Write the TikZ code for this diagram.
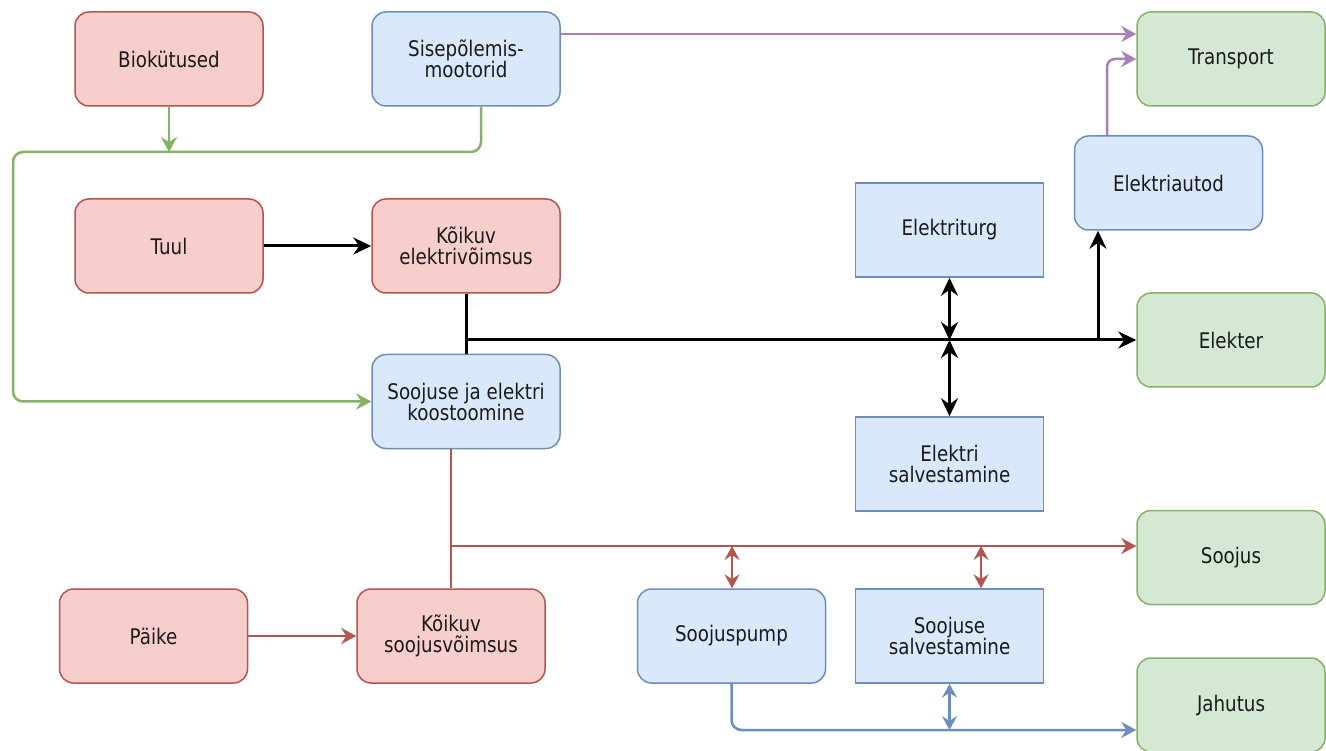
\documentclass[tikz,border=0pt]{standalone}
\usepackage{fontspec}
\setmainfont{DejaVu Sans}[FakeStretch=0.85]
\usetikzlibrary{arrows.meta,calc}
\definecolor{redfill}{HTML}{F8CECC}
\definecolor{redline}{HTML}{B85450}
\definecolor{bluefill}{HTML}{DAE8FC}
\definecolor{blueline}{HTML}{6C8EBF}
\definecolor{greenfill}{HTML}{D5E8D4}
\definecolor{greenline}{HTML}{82B366}
\definecolor{purpline}{HTML}{A680B8}
\definecolor{txt}{HTML}{1A1A1A}
\begin{document}
\begin{tikzpicture}[x=1pt,y=-1pt,
  box/.style={draw, line width=1.5pt, minimum width=188pt, minimum height=94pt,
    align=center, inner sep=0pt, text=txt, font=\fontsize{21.5}{21}\selectfont},
  rbox/.style={box, rounded corners=14pt},
  redbox/.style={rbox, fill=redfill, draw=redline},
  bluebox/.style={rbox, fill=bluefill, draw=blueline},
  bluesq/.style={box, fill=bluefill, draw=blueline},
  greenbox/.style={rbox, fill=greenfill, draw=greenline},
  blk/.style={draw=black, line width=3pt, -{Stealth[length=18pt,width=17pt,inset=6pt]}},
  blkline/.style={draw=black, line width=3pt},
  blk2/.style={draw=black, line width=3pt, {Stealth[length=18pt,width=17pt,inset=6pt]}-{Stealth[length=18pt,width=17pt,inset=6pt]}},
  grn/.style={draw=greenline, line width=2.5pt},
  grnar/.style={grn, -{Stealth[length=15pt,width=16pt,inset=5pt]}},
  rd/.style={draw=redline, line width=2.5pt},
  rdar/.style={rd, -{Stealth[length=15pt,width=16pt,inset=5pt]}},
  rd2/.style={rd, {Stealth[length=14pt,width=15pt,inset=5pt]}-{Stealth[length=14pt,width=15pt,inset=5pt]}},
  bl/.style={draw=blueline, line width=2.5pt},
  blar/.style={bl, -{Stealth[length=15pt,width=16pt,inset=5pt]}},
  bl2/.style={bl, {Stealth[length=14pt,width=15pt,inset=5pt]}-{Stealth[length=14pt,width=15pt,inset=5pt]}},
  pu/.style={draw=purpline, line width=2.5pt, -{Stealth[length=15pt,width=16pt,inset=5pt]}}
]
\useasboundingbox[fill=white] (0,0) rectangle (1326,751);

% nodes
\node[redbox]   (bio)     at (169,59)    {Biokütused};
\node[bluebox]  (sise)    at (466,59)    {Sisepõlemis-\\mootorid};
\node[greenbox] (transp)  at (1231,59)   {Transport};
\node[redbox]   (tuul)    at (169,246)   {Tuul};
\node[redbox]   (kelek)   at (466,246)   {Kõikuv\\elektrivõimsus};
\node[bluebox]  (eauto)   at (1168.5,183) {Elektriautod};
\node[bluesq]   (eturg)   at (949.5,230) {Elektriturg};
\node[greenbox] (elekter) at (1231,340)  {Elekter};
\node[bluebox]  (sje)     at (466,401.5) {Soojuse ja elektri\\koostoomine};
\node[bluesq]   (esalv)   at (949.5,464) {Elektri\\salvestamine};
\node[greenbox] (soojus)  at (1231,557.5) {Soojus};
\node[redbox]   (paike)   at (153.5,636) {Päike};
\node[redbox]   (ksoo)    at (451,636)   {Kõikuv\\soojusvõimsus};
\node[bluebox]  (spump)   at (731.5,636) {Soojuspump};
\node[bluesq]   (ssalv)   at (949.5,636) {Soojuse\\salvestamine};
\node[greenbox] (jahutus) at (1231,705)  {Jahutus};

% coordinates
\coordinate (gl) at (13,152);
\coordinate (bj) at (466,340);
\coordinate (ej) at (949.5,340);
\coordinate (ea) at (1098,340);
\coordinate (rj) at (451,546);
\coordinate (rp) at (732,546);
\coordinate (rs) at (981,546);
\coordinate (bj2) at (949.5,730);

% purple
\draw[pu] ($(sise.east)+(0,-25)$) -- ($(transp.west)+(0,-25)$);
\draw[pu, rounded corners=8pt] ($(eauto.north)+(-61.5,0)$) |- (transp.west);

% green
\draw[grnar] (bio.south) -- (bio.south |- gl);
\draw[grnar, rounded corners=10pt] ($(sise.south)+(15,0)$) |- (gl) |- (sje.west);

% black
\draw[blk] (tuul.east) -- (kelek.west);
\draw[blkline] (kelek.south) -- (sje.north);
\draw[blk] (bj) -- (elekter.west);
\draw[blk2] (eturg.south) -- (ej);
\draw[blk2] (ej) -- (esalv.north);
\draw[blk] (ea) -- (ea |- eauto.south);

% red
\draw[rd] ($(sje.south)+(-15,0)$) -- (ksoo.north);
\draw[rdar] (rj) -- (rj -| soojus.west);
\draw[rd2] (rp) -- (rp |- spump.north);
\draw[rd2] (rs) -- (rs |- ssalv.north);
\draw[rdar] (paike.east) -- (ksoo.west);

% blue
\draw[blar, rounded corners=10pt] (spump.south) |- (bj2 -| jahutus.west);
\draw[bl2] (ssalv.south) -- (bj2);
\end{tikzpicture}
\end{document}
